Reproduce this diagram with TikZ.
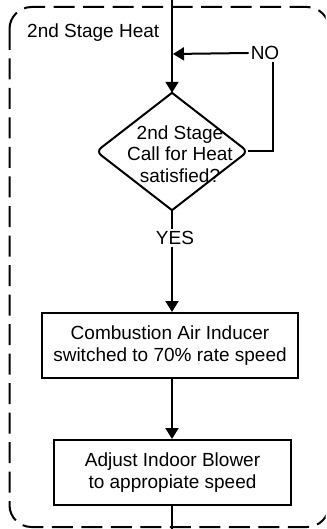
\documentclass[tikz,border=0pt]{standalone}
\usepackage{fontspec}
\setmainfont{Liberation Sans}
\usetikzlibrary{arrows.meta,shapes.geometric}
\begin{document}
\begin{tikzpicture}[x=1pt,y=-1pt,
  every node/.style={font=\fontsize{19}{21.5}\selectfont},
  conn/.style={line width=2pt},
  arr/.style={conn,-{Triangle[length=11pt,width=13pt]}},
  procbox/.style={draw,line width=2pt,align=center,inner sep=0pt},
  stagebox/.style={line width=2pt,dash pattern=on 21pt off 8.5pt,rounded corners=22pt},
  lbl/.style={inner sep=2pt}]
\useasboundingbox (0,0) rectangle (326,529);
\begin{scope}
\clip (0,0) rectangle (325.5,529);
% container
\draw[stagebox] (9.5,7) rectangle (329,527);
\end{scope}
\node[anchor=west,inner sep=0pt] (title) at (27,33) {2nd Stage Heat};
% diamond
\node[draw=none,shape=diamond,minimum width=151pt,minimum height=117pt,inner sep=0pt] (d) at (172,151.5) {};
\draw[line width=2pt] (d.north) [rounded corners=6pt] -- (d.east) [sharp corners] -- (d.south) [rounded corners=6pt] -- (d.west) [sharp corners] -- cycle;
\node[align=center,inner sep=0pt] (dtext) at (180,154) {2nd Stage\\Call for Heat\\satisfied?};
% labels
\node[lbl] (no) at (265,53) {NO};
\node[lbl] (yes) at (175,238) {YES};
% boxes
\node[procbox,minimum width=256pt,minimum height=65pt] (b1) at (170,345.5) {Combustion Air Inducer\\switched to 70\% rate speed};
\node[procbox,minimum width=237pt,minimum height=65pt] (b2) at (172.5,472.5) {Adjust Indoor Blower\\to appropiate speed};
% coordinates
\coordinate (top) at (172,0);
\coordinate (bot) at (172,529);
\coordinate (join) at (173,54);
% connectors
\draw[arr] (top) -- (d.north);
\draw[conn] (d.east) -| ([xshift=8pt]no.south);
\draw[arr] (no.west) -- (join);
\draw[conn] (d.south) -- (yes.north -| top);
\draw[arr] (yes.south -| top) -- (b1.north -| top);
\draw[arr] (b1.south -| top) -- (b2.north -| top);
\draw[conn] (b2.south -| top) -- (bot);
\end{tikzpicture}
\end{document}
